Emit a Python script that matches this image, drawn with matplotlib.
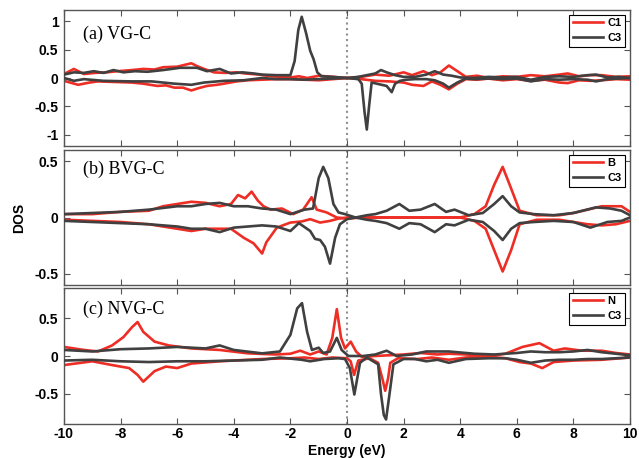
import matplotlib
matplotlib.use('Agg')
import matplotlib.pyplot as plt

plt.rcParams['font.family'] = 'Liberation Sans'
plt.rcParams['font.weight'] = 'bold'
plt.rcParams['axes.unicode_minus'] = False

RED = '#ee2d24'
GRAY = '#404040'

# ---- panel (a) VG-C ----
a_c1_up_e = [-10, -9.65, -9.3, -8.9, -8.5, -8.1, -7.6, -7.2, -6.8, -6.5, -6.0, -5.75, -5.5, -5.3, -5.05, -4.7, -4.3,
             -3.9, -3.6, -3.1, -2.7, -2.3, -2.0, -1.7, -1.4, -1.0, -0.5, 0, 0.5, 1, 1.5, 2, 2.3, 2.7, 3.0, 3.3,
             3.6, 3.9, 4.2, 4.6, 5, 5.5, 6, 6.5, 7, 7.5, 7.8, 8.2, 8.6, 9, 9.5, 10]
a_c1_up = [0.07, 0.16, 0.07, 0.09, 0.1, 0.12, 0.14, 0.16, 0.15, 0.19, 0.2, 0.23, 0.26, 0.21, 0.16, 0.1, 0.09, 0.1,
           0.08, 0.06, 0.03, 0.02, 0.01, 0.03, 0.0, 0.04, 0.02, 0.0, 0.02, 0.06, 0.04, 0.1, 0.05, 0.12, 0.05, 0.1,
           0.22, 0.12, 0.02, 0.04, 0.0, 0.03, 0.02, 0.05, 0.03, 0.06, 0.08, 0.03, 0.05, 0.05, 0.02, 0.03]
a_c1_dn_e = [-10, -9.5, -9.1, -8.8, -8.2, -7.6, -7.2, -6.7, -6.4, -6.1, -5.8, -5.5, -5.25, -4.95, -4.6, -4.35,
             -3.9, -3.5, -3.0, -2.5, -2.0, -1.5, -1.0, -0.5, 0, 0.5, 1, 1.5, 2, 2.3, 2.7, 3.0, 3.3, 3.6, 3.9, 4.2,
             4.6, 5, 5.5, 6, 6.5, 7, 7.5, 7.8, 8.2, 8.6, 9, 9.5, 10]
a_c1_dn = [-0.05, -0.12, -0.08, -0.06, -0.07, -0.08, -0.1, -0.14, -0.13, -0.17, -0.17, -0.22, -0.18, -0.14, -0.12,
           -0.1, -0.06, -0.04, -0.03, -0.02, -0.02, -0.03, -0.04, -0.02, 0.0, -0.02, -0.05, -0.06, -0.08, -0.12,
           -0.14, -0.06, -0.12, -0.2, -0.1, -0.02, -0.03, -0.01, -0.04, -0.02, -0.05, -0.03, -0.08, -0.09, -0.04,
           -0.05, -0.04, -0.02, -0.03]
a_c3_up_e = [-10, -9.65, -9.3, -8.95, -8.6, -8.25, -7.9, -7.5, -7.05, -6.5, -5.9, -5.3, -4.95, -4.5, -4.1, -3.7,
             -3.3, -3.0, -2.5, -2.0, -1.85, -1.72, -1.6, -1.45, -1.3, -1.18, -1.05, -0.9, -0.5, 0, 0.4, 0.8, 1.0,
             1.2, 1.4, 1.7, 2.0, 2.4, 2.8, 3.1, 3.4, 3.7, 4.0, 4.5, 5, 5.5, 6, 6.5, 7, 7.5, 8, 8.5, 8.8, 9.2, 9.6, 10]
a_c3_up = [0.06, 0.1, 0.09, 0.12, 0.09, 0.14, 0.1, 0.12, 0.11, 0.14, 0.18, 0.18, 0.12, 0.16, 0.08, 0.1, 0.08, 0.06,
           0.05, 0.05, 0.3, 0.85, 1.08, 0.8, 0.48, 0.33, 0.1, 0.03, 0.02, 0.0, 0.02, 0.06, 0.08, 0.14, 0.1, 0.05,
           0.02, 0.02, 0.06, 0.12, 0.06, 0.04, 0.01, 0.0, 0.02, 0.01, 0.02, -0.03, 0.02, 0.03, 0.02, 0.05, 0.06,
           0.01, 0.02, 0.0]
a_c3_dn_e = [-10, -9.65, -9.3, -8.6, -7.6, -6.9, -6.1, -5.5, -5.05, -4.35, -3.65, -3.0, -2.5, -2, -1.5, -1, -0.5,
             0, 0.4, 0.52, 0.62, 0.7, 0.78, 0.87, 1.05, 1.4, 1.58, 1.7, 1.87, 2.1, 2.4, 2.8, 3.1, 3.4, 3.6, 3.9,
             4.2, 4.5, 5, 5.5, 6, 6.5, 7, 7.5, 8, 8.5, 8.8, 9.2, 9.6, 10]
a_c3_dn = [0.0, -0.05, -0.02, -0.05, -0.06, -0.06, -0.1, -0.12, -0.08, -0.05, -0.04, 0.0, -0.02, -0.02, -0.03,
           -0.02, -0.01, 0.0, -0.02, -0.1, -0.6, -0.91, -0.5, -0.08, -0.1, -0.14, -0.25, -0.1, -0.05, -0.03, -0.02,
           -0.02, -0.04, -0.1, -0.17, -0.08, -0.01, -0.02, -0.01, -0.02, -0.01, -0.06, -0.02, -0.03, -0.02, -0.03,
           -0.06, -0.02, -0.01, 0.0]

# ---- panel (b) BVG-C ----
b_b_up_e = [-10, -9, -8, -7, -6.5, -6, -5.5, -5, -4.5, -4.1, -3.85, -3.6, -3.37, -3.15, -2.95, -2.7, -2.3, -1.9,
            -1.55, -1.25, -1.07, -0.72, -0.36, 0, 0.5, 1, 2, 3, 4, 4.5, 4.9, 5.2, 5.5, 5.75, 6.1, 6.7, 7.5, 8, 8.5,
            9, 9.3, 9.7, 10]
b_b_up = [0.03, 0.03, 0.05, 0.06, 0.1, 0.12, 0.14, 0.13, 0.1, 0.12, 0.2, 0.17, 0.23, 0.15, 0.1, 0.07, 0.08, 0.03,
          0.07, 0.18, 0.07, 0.045, 0.0, -0.01, 0.0, 0.0, 0.0, 0.0, 0.0, 0.03, 0.1, 0.29, 0.45, 0.29, 0.06, 0.02,
          0.02, 0.04, 0.07, 0.1, 0.1, 0.1, 0.05]
b_b_dn_e = [-10, -9, -8, -7, -6.5, -6, -5.5, -5, -4.5, -4.1, -3.65, -3.3, -3.0, -2.85, -2.48, -2.0, -1.6, -1.3,
            -0.95, -0.6, -0.3, 0, 0.5, 1, 2, 3, 4, 4.5, 4.9, 5.2, 5.5, 5.8, 6.1, 6.7, 7.5, 8, 8.5, 9, 9.5, 10]
b_b_dn = [-0.02, -0.03, -0.04, -0.06, -0.08, -0.1, -0.12, -0.1, -0.1, -0.1, -0.18, -0.23, -0.32, -0.22, -0.09,
          -0.045, -0.035, -0.015, -0.045, -0.03, -0.01, 0.0, 0.0, 0.0, 0.0, 0.0, 0.0, -0.03, -0.1, -0.29, -0.48,
          -0.29, -0.06, -0.02, -0.02, -0.04, -0.06, -0.07, -0.06, -0.03]
b_c3_up_e = [-10, -9, -8, -7, -6, -5.5, -5, -4.5, -4, -3.5, -3, -2.5, -2.0, -1.5, -1.2, -1.0, -0.84, -0.66, -0.48,
             -0.3, -0.07, 0.3, 0.7, 1.0, 1.4, 1.85, 2.2, 2.6, 3.1, 3.5, 3.8, 4.3, 4.8, 5.2, 5.5, 5.8, 6.1, 6.6, 7.3,
             8.0, 8.8, 9.3, 9.7, 10]
b_c3_up = [0.03, 0.04, 0.05, 0.07, 0.1, 0.1, 0.12, 0.13, 0.1, 0.1, 0.08, 0.07, 0.03, 0.07, 0.08, 0.35, 0.45, 0.35,
           0.12, 0.045, 0.03, 0.0, 0.02, 0.03, 0.06, 0.12, 0.06, 0.07, 0.12, 0.05, 0.07, 0.02, 0.04, 0.12, 0.19,
           0.1, 0.045, 0.03, 0.02, 0.04, 0.09, 0.08, 0.06, 0.02]
b_c3_dn_e = [-10, -9, -8, -7, -6, -5.5, -5, -4.5, -4, -3.5, -3, -2.5, -2.0, -1.7, -1.3, -1.13, -0.95, -0.78, -0.6,
             -0.42, -0.25, 0, 0.3, 0.7, 1.0, 1.4, 1.85, 2.2, 2.6, 3.1, 3.5, 3.8, 4.3, 4.8, 5.2, 5.5, 5.8, 6.1, 6.6,
             7.3, 8.0, 8.6, 9.2, 9.7, 10]
b_c3_dn = [-0.03, -0.04, -0.05, -0.06, -0.08, -0.1, -0.1, -0.13, -0.09, -0.08, -0.07, -0.08, -0.12, -0.05, -0.12,
           -0.19, -0.2, -0.26, -0.41, -0.18, -0.06, -0.015, 0.0, -0.02, -0.03, -0.05, -0.1, -0.05, -0.06, -0.13,
           -0.06, -0.07, -0.02, -0.04, -0.12, -0.2, -0.1, -0.05, -0.04, -0.03, -0.04, -0.09, -0.04, -0.03, 0.0]

# ---- panel (c) NVG-C ----
c_n_up_e = [-10, -9.3, -8.8, -8.3, -7.9, -7.6, -7.4, -7.2, -6.8, -6.3, -5.5, -4.5, -3.5, -2.5, -2.0, -1.65, -1.3,
            -1.0, -0.72, -0.52, -0.36, -0.21, -0.07, 0.13, 0.32, 0.52, 1.0, 1.5, 2.0, 2.6, 3.2, 3.6, 4.2, 5.0, 5.6,
            6.2, 6.8, 7.3, 7.7, 8.3, 9.0, 9.5, 10]
c_n_up = [0.12, 0.08, 0.06, 0.14, 0.25, 0.38, 0.45, 0.32, 0.19, 0.14, 0.1, 0.08, 0.035, 0.02, 0.03, 0.07, 0.02,
          0.06, 0.02, 0.24, 0.62, 0.24, 0.1, 0.19, 0.06, -0.01, 0.0, 0.01, 0.02, 0.04, 0.02, 0.03, 0.02, 0.0, 0.03,
          0.12, 0.17, 0.07, 0.1, 0.07, 0.07, 0.04, 0.02]
c_n_dn_e = [-10, -9, -8.3, -7.7, -7.4, -7.2, -6.8, -6.4, -6.0, -5.5, -4.5, -3.0, -2.0, -1.5, -1.0, -0.5, 0.0, 0.13,
            0.25, 0.4, 0.8, 1.1, 1.25, 1.35, 1.45, 1.53, 1.8, 2.5, 3.0, 3.6, 4.2, 5.0, 5.6, 6.1, 6.5, 6.9, 7.3, 8.0,
            9.0, 10]
c_n_dn = [-0.12, -0.07, -0.12, -0.16, -0.25, -0.34, -0.2, -0.14, -0.16, -0.1, -0.07, -0.04, -0.03, -0.02, -0.04,
          -0.02, -0.03, -0.07, -0.25, -0.06, -0.03, -0.09, -0.3, -0.46, -0.3, -0.09, -0.03, -0.04, -0.02, -0.05,
          -0.02, -0.01, -0.03, -0.08, -0.1, -0.16, -0.08, -0.06, -0.05, -0.02]
c_c3_up_e = [-10, -9, -8, -7, -6, -5, -4.5, -4, -3, -2.37, -2.0, -1.76, -1.59, -1.41, -1.24, -1.0, -0.84, -0.6,
             -0.36, -0.19, 0.05, 0.57, 1.0, 1.4, 1.75, 2.3, 2.8, 3.2, 3.6, 4.5, 5.2, 6.0, 6.5, 7.0, 7.5, 8.0, 8.5,
             9.0, 9.5, 10]
c_c3_up = [0.08, 0.06, 0.09, 0.1, 0.12, 0.1, 0.14, 0.08, 0.035, 0.06, 0.28, 0.63, 0.7, 0.32, 0.08, 0.11, 0.04,
           0.06, 0.24, 0.08, 0.0, 0.0, 0.02, 0.07, 0.0, 0.02, 0.06, 0.06, 0.06, 0.03, 0.02, 0.04, 0.06, 0.05, 0.05,
           0.06, 0.08, 0.05, 0.03, 0.01]
c_c3_dn_e = [-10, -9, -8, -7, -6, -5, -4, -3, -2.37, -1.6, -1.3, -0.8, -0.3, -0.07, 0.1, 0.26, 0.46, 0.7, 1.1,
             1.2, 1.3, 1.38, 1.5, 1.64, 2.0, 2.4, 2.8, 3.2, 3.6, 4.2, 5.0, 5.6, 6.0, 6.5, 7.0, 7.5, 8.0, 8.5, 9.0,
             9.5, 10]
c_c3_dn = [-0.06, -0.05, -0.07, -0.08, -0.07, -0.07, -0.06, -0.05, -0.02, -0.05, -0.07, -0.04, -0.03, -0.04, -0.16,
           -0.51, -0.09, -0.02, -0.11, -0.5, -0.78, -0.84, -0.51, -0.11, -0.04, -0.04, -0.07, -0.05, -0.09, -0.04,
           -0.03, -0.03, -0.05, -0.09, -0.06, -0.05, -0.05, -0.04, -0.04, -0.03, -0.02]

panels = [
    ('(a) VG-C', 'C1', (a_c1_up_e, a_c1_up, a_c1_dn_e, a_c1_dn), (a_c3_up_e, a_c3_up, a_c3_dn_e, a_c3_dn),
     1.2, [-1, -0.5, 0, 0.5, 1], 0.82),
    ('(b) BVG-C', 'B', (b_b_up_e, b_b_up, b_b_dn_e, b_b_dn), (b_c3_up_e, b_c3_up, b_c3_dn_e, b_c3_dn),
     0.6, [-0.5, 0, 0.5], 0.86),
    ('(c) NVG-C', 'N', (c_n_up_e, c_n_up, c_n_dn_e, c_n_dn), (c_c3_up_e, c_c3_up, c_c3_dn_e, c_c3_dn),
     0.9, [-0.5, 0, 0.5], 0.84),
]

fig = plt.figure(figsize=(6.39, 4.58), dpi=100)
boxes = [(10, 146), (150, 285), (288, 424)]
left, right = 64, 630

for i, (title, name, sp, c3, ylim, yt, ty) in enumerate(panels):
    top, bot = boxes[i]
    ax = fig.add_axes([left / 639, 1 - bot / 458, (right - left) / 639, (bot - top) / 458])
    ax.axvline(0, color='#909090', ls=':', lw=1.5, zorder=1)
    ax.plot(sp[0], sp[1], color=RED, lw=1.9, label=name, zorder=2)
    ax.plot(sp[2], sp[3], color=RED, lw=1.9, zorder=2)
    ax.plot(c3[0], c3[1], color=GRAY, lw=1.9, label='C3', zorder=3)
    ax.plot(c3[2], c3[3], color=GRAY, lw=1.9, zorder=3)
    ax.set_xlim(-10, 10)
    ax.set_ylim(-ylim, ylim)
    ax.set_xticks(range(-10, 11, 2))
    ax.set_yticks(yt)
    ax.set_yticklabels([('%g' % v) for v in yt])
    ax.tick_params(direction='in', top=True, right=True, length=4, width=0.8, color='#555555',
                   labelsize=10, pad=4)
    ax.tick_params(axis='x', pad=2.5)
    if i < 2:
        ax.tick_params(labelbottom=False)
    for s in ax.spines.values():
        s.set_color('#555555')
        s.set_linewidth(1.0)
    ax.text(0.034, ty, title, transform=ax.transAxes, family='Liberation Serif', fontweight='normal',
            fontsize=13, va='center', ha='left')
    leg = ax.legend(loc='upper right', fontsize=8, handlelength=2.7, handletextpad=0.45, borderpad=0.3,
                    labelspacing=0.45, borderaxespad=0.45, fancybox=False, framealpha=1)
    leg.get_frame().set_edgecolor('black')
    leg.get_frame().set_linewidth(0.8)
    if i == 2:
        ax.set_xlabel('Energy (eV)', fontsize=10, fontweight='bold', labelpad=2)

fig.text(19 / 639, 1 - 218 / 458, 'DOS', rotation=90, fontsize=10, fontweight='bold', ha='center', va='center')

fig.savefig('out.png', dpi=100)
